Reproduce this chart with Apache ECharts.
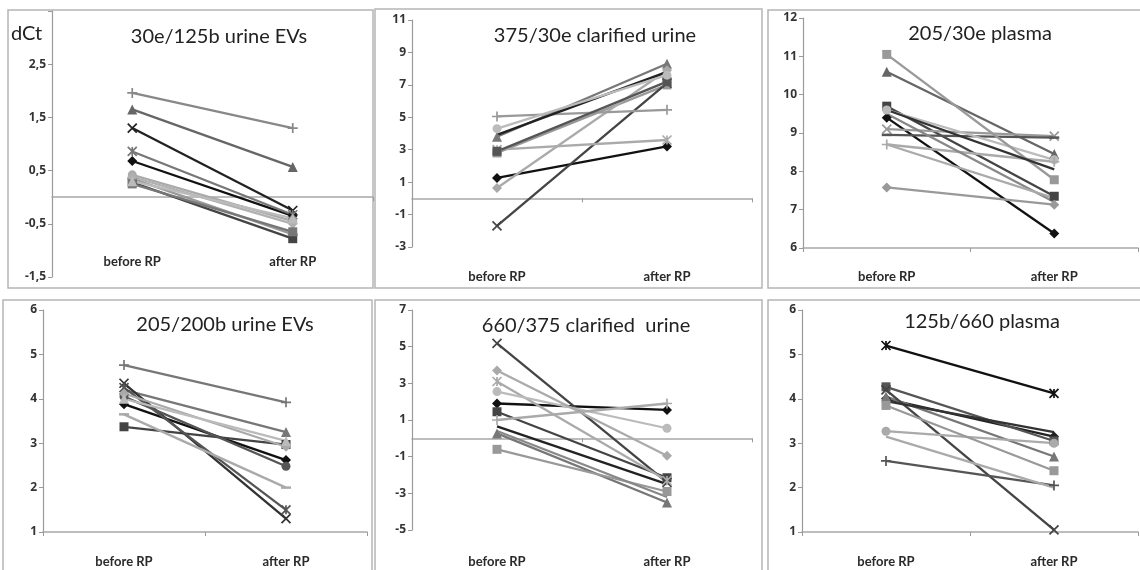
<!DOCTYPE html>
<html>
<head>
<meta charset="utf-8">
<script src="https://cdn.jsdelivr.net/npm/echarts@6/dist/echarts.min.js"></script>
<style>
html,body{margin:0;padding:0;background:#fff;}
#c{width:1140px;height:570px;}
</style>
</head>
<body>
<div id="c"></div>
<script>
// ---- data ----
const categories = ['before RP', 'after RP'];
const titles = ['30e/125b urine EVs', '375/30e clarified urine', '205/30e plasma',
                '205/200b urine EVs', '660/375 clarified  urine', '125b/660 plasma'];
const yAxisName = 'dCt';

// panel 1: 30e/125b urine EVs
const p1Before = [0.68, 0.28, 1.65, 1.30, 0.86, 0.42, 1.96, 0.35, 0.38, 0.25, 0.30];
const p1After  = [-0.35, -0.78, 0.57, -0.25, -0.33, -0.45, 1.30, -0.70, -0.50, -0.65, -0.40];
const p1Ticks  = [-1.5, -0.5, 0.5, 1.5, 2.5];
const p1TickLabels = ['-1,5', '-0,5', '0,5', '1,5', '2,5'];

// panel 2: 375/30e clarified urine
const p2Before = [1.26, 2.80, 3.80, -1.70, 3.00, 0.64, 5.05, 3.92, 2.90, 4.30];
const p2After  = [3.20, 7.00, 8.30, 7.10, 3.60, 7.90, 5.46, 7.80, 7.20, 7.60];
const p2Ticks  = [-3, -1, 1, 3, 5, 7, 9, 11];

// panel 3: 205/30e plasma
const p3Before = [9.40, 9.70, 10.60, 9.10, 8.95, 9.60, 8.70, 11.05, 7.58, 9.60, 9.50, 8.70];
const p3After  = [6.38, 7.35, 8.45, 8.92, 8.88, 8.30, 8.25, 7.78, 7.13, 8.05, 7.20, 7.30];
const p3Ticks  = [6, 7, 8, 9, 10, 11, 12];

// panel 4: 205/200b urine EVs
const p4Before = [3.88, 3.37, 4.20, 4.35, 4.25, 4.05, 4.76, 3.65, 4.12, 4.00];
const p4After  = [2.62, 2.97, 3.25, 1.30, 1.50, 2.48, 3.92, 2.00, 2.92, 3.05];
const p4Ticks  = [1, 2, 3, 4, 5, 6];

// panel 5: 660/375 clarified urine
const p5Before = [1.90, 1.45, 0.27, 5.18, 3.10, 2.55, 1.00, -0.60, 3.70, 0.65, 0.40];
const p5After  = [1.55, -2.15, -3.50, -2.40, -2.30, 0.55, 1.90, -2.90, -0.95, -2.50, -3.20];
const p5Ticks  = [-5, -3, -1, 1, 3, 5, 7];

// panel 6: 125b/660 plasma
const p6Before = [4.00, 4.27, 4.05, 4.20, 5.20, 3.27, 2.60, 3.85, 3.15, 3.95];
const p6After  = [3.15, 3.05, 2.70, 1.05, 4.12, 3.00, 2.05, 2.38, 2.00, 3.25];
const p6Ticks  = [1, 2, 3, 4, 5, 6];

// ---- styles (marker, colour) ----
const p1Style = [['diamond','#111'],['rect','#444'],['triangle','#666'],['x','#222'],['star','#777'],['circle','#aaa'],['plus','#888'],['dash','#999'],['diamond','#b0b0b0'],['rect','#777'],['triangle','#bbb']];
const p2Style = [['diamond','#111'],['rect','#999'],['triangle','#777'],['x','#444'],['star','#aaa'],['diamond','#aaa'],['plus','#999'],['none','#222'],['rect','#555'],['circle','#bbb']];
const p3Style = [['diamond','#111'],['rect','#444'],['triangle','#666'],['x','#999'],['dash','#555'],['circle','#bbb'],['plus','#aaa'],['rect','#999'],['diamond','#999'],['none','#333'],['none','#888'],['none','#aaa']];
const p4Style = [['diamond','#111'],['rect','#444'],['triangle','#777'],['x','#333'],['star','#555'],['circle','#555'],['plus','#777'],['dash','#aaa'],['diamond','#aaa'],['triangle','#bbb']];
const p5Style = [['diamond','#111'],['rect','#444'],['triangle','#777'],['x','#444'],['star','#aaa'],['circle','#bbb'],['plus','#aaa'],['rect','#999'],['diamond','#aaa'],['none','#222'],['none','#888']];
const p6Style = [['diamond','#222'],['rect','#555'],['triangle','#777'],['x','#444'],['star','#111'],['circle','#aaa'],['plus','#555'],['rect','#999'],['none','#aaa'],['none','#333']];

const SYM = {
  diamond: 'diamond', rect: 'rect', triangle: 'triangle', circle: 'circle', none: 'none',
  x: 'path://M0,0L10,10M10,0L0,10',
  star: 'path://M0,0L10,10M10,0L0,10M5,0L5,10',
  plus: 'path://M0,5L10,5M5,0L5,10',
  dash: 'rect'
};
const SIZE = {diamond: 10, rect: 9, triangle: 10, circle: 9, none: 0, x: 9, star: 9, plus: 10, dash: [10, 2.5]};
const STROKED = {x: true, star: true, plus: true};

const panels = [
  {before: p1Before, after: p1After, ticks: p1Ticks, tickLabels: p1TickLabels, max: 3.5, style: p1Style,
   grid: {left: 52, top: 11, width: 321, height: 266}, labOff: -22, title: [219, 37]},
  {before: p2Before, after: p2After, ticks: p2Ticks, style: p2Style,
   grid: {left: 412, top: 20, width: 340, height: 227}, labOff: 23, title: [595, 36]},
  {before: p3Before, after: p3After, ticks: p3Ticks, style: p3Style,
   grid: {left: 803, top: 18, width: 335, height: 230}, labOff: 22, title: [980, 34]},
  {before: p4Before, after: p4After, ticks: p4Ticks, style: p4Style,
   grid: {left: 43, top: 310, width: 324, height: 222}, labOff: 23, title: [225, 325]},
  {before: p5Before, after: p5After, ticks: p5Ticks, style: p5Style,
   grid: {left: 412, top: 310, width: 340, height: 220}, labOff: 25, title: [586, 326]},
  {before: p6Before, after: p6After, ticks: p6Ticks, style: p6Style,
   grid: {left: 802, top: 310, width: 336, height: 222}, labOff: 23, title: [982, 322]}
];

const grid = [], xAxis = [], yAxis = [], series = [], title = [];
const AX = '#9a9a9a';
panels.forEach((p, k) => {
  grid.push(Object.assign({containLabel: false, outerBoundsMode: 'none'}, p.grid));
  const interval = p.ticks[1] - p.ticks[0];
  const max = p.max !== undefined ? p.max : p.ticks[p.ticks.length - 1];
  yAxis.push({
    type: 'value', gridIndex: k, min: p.ticks[0], max: max, interval: interval,
    axisLine: {show: true, lineStyle: {color: AX, width: 1.2}},
    axisTick: {show: true, length: 4, lineStyle: {color: AX}},
    splitLine: {show: false},
    axisLabel: {
      margin: 6, color: '#333', fontSize: 12, fontWeight: 'bold', fontFamily: 'Noto Sans',
      formatter: v => {
        const i = p.ticks.findIndex(t => Math.abs(t - v) < 1e-9);
        if (i < 0) return '';
        return p.tickLabels ? p.tickLabels[i] : String(v);
      }
    }
  });
  xAxis.push({
    type: 'category', gridIndex: k, data: categories, boundaryGap: true, position: 'bottom',
    axisLine: {show: true, onZero: true, lineStyle: {color: '#a8a8a8', width: 1.5}},
    axisTick: {show: true, length: 4, lineStyle: {color: AX}},
    axisLabel: {show: false}
  });
  xAxis.push({
    type: 'category', gridIndex: k, data: categories, boundaryGap: true, position: 'bottom',
    offset: p.labOff,
    axisLine: {show: false, onZero: false}, axisTick: {show: false},
    axisLabel: {margin: 0, color: '#2a2a2a', fontSize: 13, fontWeight: 'bold', fontFamily: 'Lato'}
  });
  title.push({
    text: titles[k], left: p.title[0], top: p.title[1], padding: 0,
    textAlign: 'center', textVerticalAlign: 'middle',
    textStyle: {fontFamily: 'Lato', fontSize: 20, fontWeight: 'normal', color: '#222'}
  });
  p.before.forEach((b, i) => {
    const [mk, col] = p.style[i];
    series.push({
      type: 'line', xAxisIndex: 2 * k, yAxisIndex: k,
      data: [b, p.after[i]],
      symbol: SYM[mk], symbolSize: SIZE[mk], showSymbol: mk !== 'none',
      silent: true, animation: false,
      lineStyle: {color: col, width: 2.3},
      itemStyle: {color: col, borderColor: col, borderWidth: STROKED[mk] ? 1.7 : 0},
      emphasis: {disabled: true}
    });
  });
});

const frame = (x, y, w, h) => ({
  type: 'rect', shape: {x, y, width: w, height: h}, silent: true, z: -1,
  style: {fill: 'none', stroke: '#b5b5b5', lineWidth: 1.5}
});

const chart = echarts.init(document.getElementById('c'), null, {renderer: 'canvas'});
chart.setOption({
  animation: false,
  backgroundColor: '#fff',
  title, grid, xAxis, yAxis, series,
  graphic: [
    frame(8, 10, 365, 278), frame(375, 9, 387, 279), frame(768, 10, 380, 278),
    frame(3, 300, 369, 280), frame(375, 300, 387, 280), frame(768, 300, 380, 280),
    {type: 'text', left: 11, top: 24, silent: true,
     style: {text: yAxisName, fontFamily: 'Lato', fontSize: 20, fill: '#222'}}
  ]
});
</script>
</body>
</html>
